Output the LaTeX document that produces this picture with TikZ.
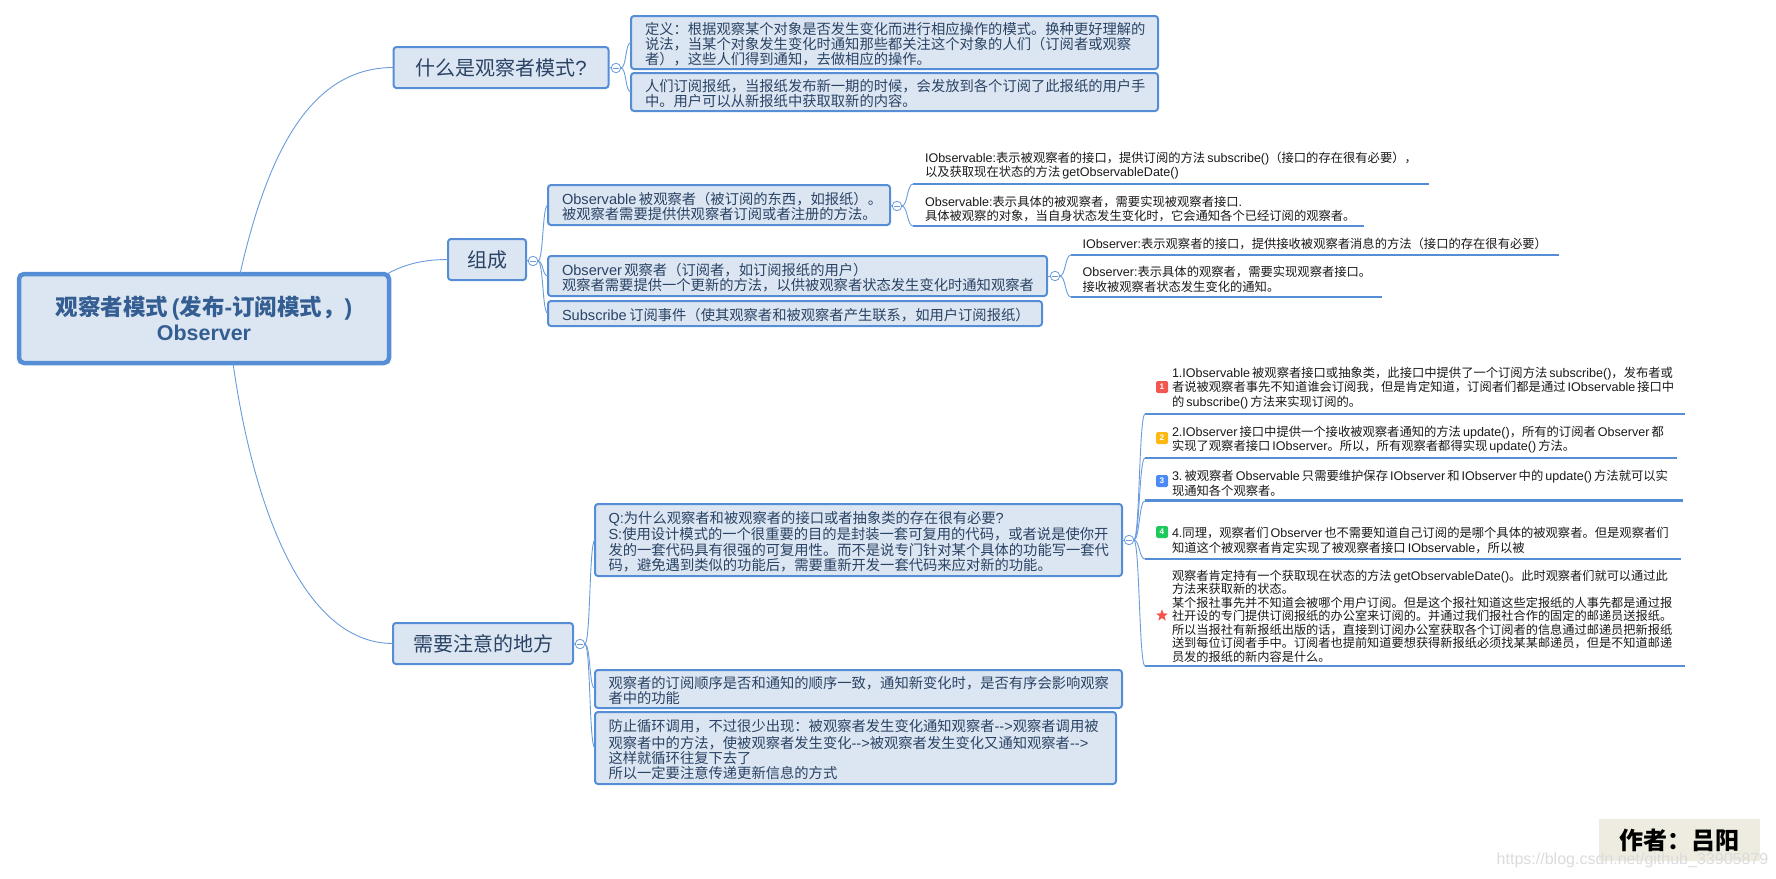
\documentclass[tikz,border=0pt]{standalone}
\usepackage{fontspec}
\usetikzlibrary{shapes.geometric}
\setmainfont{Noto Sans CJK SC}
\newfontfamily\enfont[Scale=1.02]{Liberation Sans}
\newcommand\en[1]{{\enfont #1}}
\definecolor{bstroke}{HTML}{558ED5}
\definecolor{bfill}{HTML}{DCE6F2}
\definecolor{ctext}{HTML}{2A4365}
\definecolor{rtext}{HTML}{345E92}
\definecolor{connc}{HTML}{6A9BDC}
\definecolor{authorbg}{HTML}{EEECE1}
\def\tspace{0pt}
\tikzset{
  allbox/.style={rectangle,inner xsep=0pt,inner ysep=0pt,outer sep=0pt,align=left},
  topbox/.style={allbox,draw=bstroke,fill=bfill,line width=2pt,rounded corners=3pt,text=ctext},
  sm/.style={font=\fontsize{14.3}{15.3}\selectfont\def\tspace{3.2pt}},
  lvl/.style={rectangle,draw=bstroke,fill=bfill,line width=2pt,rounded corners=3pt,minimum height=41pt,inner sep=0pt,outer sep=0pt,text=ctext,font=\fontsize{20}{24}\selectfont},
  ultext/.style={allbox,text=black!90,font=\fontsize{12.3}{14.6}\selectfont},
  ultight/.style={allbox,text=black!90,font=\fontsize{12.2}{13.45}\selectfont},
  uline/.style={draw=bstroke,line width=2.6pt},
  conn/.style={draw=connc,line width=0.9pt},
  brace/.style={conn,out=0,in=180,max distance=6pt},
  collapse/.style={circle,draw=connc,fill=white,line width=0.8pt,minimum size=9.5pt,inner sep=0pt,outer sep=0pt,
    path picture={\draw[connc,line width=0.7pt] ([xshift=-2.6pt]path picture bounding box.center) -- ([xshift=2.6pt]path picture bounding box.center);}},
  badge/.style={rectangle,rounded corners=1.5pt,minimum size=12pt,inner sep=0pt,text=white,font=\enfont\bfseries\fontsize{8}{8}\selectfont},
}
% style, name, x0, y0, x1, y1, left pad, text
\newcommand\tb[8]{%
  \pgfmathsetmacro\bw{#5-#3}\pgfmathsetmacro\bh{#6-#4}%
  \pgfmathsetmacro\bx{(#3+#5)/2}\pgfmathsetmacro\by{(#4+#6)/2}%
  \node[#1,minimum width=\bw pt,minimum height=\bh pt,text width=\bw pt] (#2) at (\bx,\by) {\hspace*{#7pt}\parbox[c]{\dimexpr\bw pt-#7pt\relax}{\raggedright\vspace*{\tspace}#8}};}
\begin{document}
\begin{tikzpicture}[x=1pt,y=-1pt]
\useasboundingbox (0,0) rectangle (1776,878);
% root
\node[rectangle,draw=bstroke,fill=bfill,line width=4.5pt,rounded corners=5pt,minimum width=370pt,minimum height=89pt,
  inner sep=0pt,outer sep=0pt,align=center,text=rtext,font=\bfseries\fontsize{22.5}{25}\selectfont] (root) at (204,318.5)
  {观察者模式\,\en{(}发布\en{-}订阅模式，\en{)}\\{\enfont\bfseries\fontsize{21}{25}\selectfont Observer}};
% level 1
\node[lvl,minimum width=215pt] (l1) at (501,67.5) {什么是观察者模式\en{?}};
\node[lvl,minimum width=78pt] (l2) at (487,259.5) {组成};
\node[lvl,minimum width=180pt] (l3) at (483,643.5) {需要注意的地方};
\draw[conn] ([xshift=221pt]root.north west) .. controls +(32,-142) and +(-73,0) .. (l1.west);
\draw[conn] ([xshift=-2pt]root.north east) .. controls +(21,-12) and +(-18,0) .. (l2.west);
\draw[conn] ([xshift=214pt]root.south west) .. controls +(19,135) and +(-93,0) .. (l3.west);
% collapse buttons
\node[collapse] (c1) at (616,68) {};
\node[collapse] (c2) at (533,261) {};
\node[collapse] (c3) at (580,644) {};
\node[collapse] (c4) at (897,206) {};
\node[collapse] (c5) at (1055,276) {};
\node[collapse] (c6) at (1129,540) {};
% group 1
\tb{topbox,sm}{a1}{631}{16}{1158}{69}{14}{定义：根据观察某个对象是否发生变化而进行相应操作的模式。换种更好理解的\\说法，当某个对象发生变化时通知那些都关注这个对象的人们（订阅者或观察\\者），这些人们得到通知，去做相应的操作。}
\tb{topbox,sm}{a2}{631}{73}{1158}{111}{14}{人们订阅报纸，当报纸发布新一期的时候，会发放到各个订阅了此报纸的用户手\\中。用户可以从新报纸中获取取新的内容。}
% group 2
\tb{topbox,sm}{b1}{548}{185}{890}{225}{14}{\en{Observable}\,被观察者（被订阅的东西，如报纸）。\\被观察者需要提供供观察者订阅或者注册的方法。}
\tb{topbox,sm}{b2}{548}{256}{1047}{296}{14}{\en{Observer}\,观察者（订阅者，如订阅报纸的用户）\\观察者需要提供一个更新的方法，以供被观察者状态发生变化时通知观察者}
\tb{topbox,sm}{b3}{548}{301}{1042}{326}{14}{\en{Subscribe}\,订阅事件（使其观察者和被观察者产生联系，如用户订阅报纸）}
\tb{ultext}{oa}{913}{147}{1429}{184}{12}{\en{IObservable:}表示被观察者的接口，提供订阅的方法\,\en{subscribe()}（接口的存在很有必要），\\以及获取现在状态的方法\,\en{getObservableDate()}}
\tb{ultext}{ob}{913}{192}{1364}{226}{12}{\en{Observable:}表示具体的被观察者，需要实现被观察者接口\en{.}\\具体被观察的对象，当自身状态发生变化时，它会通知各个已经订阅的观察者。}
\tb{ultext}{oc}{1071}{233}{1559}{255}{11.5}{\en{IObserver:}表示观察者的接口，提供接收被观察者消息的方法（接口的存在很有必要）}
\tb{ultext}{od}{1071}{262}{1382}{297}{11.5}{\en{Observer:}表示具体的观察者，需要实现观察者接口。\\接收被观察者状态发生变化的通知。}
% group 3
\tb{topbox,sm}{d1}{595}{504}{1122}{576}{13.5}{\en{Q:}为什么观察者和被观察者的接口或者抽象类的存在很有必要\en{?}\\[1.5pt]\en{S:}使用设计模式的一个很重要的目的是封装一套可复用的代码，或者说是使你开\\发的一套代码具有很强的可复用性。而不是说专门针对某个具体的功能写一套代\\码，避免遇到类似的功能后，需要重新开发一套代码来应对新的功能。}
\tb{topbox,sm}{d2}{595}{670}{1122}{708}{13.5}{观察者的订阅顺序是否和通知的顺序一致，通知新变化时，是否有序会影响观察\\者中的功能}
\tb{topbox,sm}{d3}{595}{712}{1116}{784}{13.5}{防止循环调用，不过很少出现：被观察者发生变化通知观察者\en{-{}->}观察者调用被\\[1.5pt]观察者中的方法，使被观察者发生变化\en{-{}->}被观察者发生变化又通知观察者\en{-{}->}\\这样就循环往复下去了\\所以一定要注意传递更新信息的方式}
\tb{ultext}{q1}{1145}{362}{1685}{414}{27}{\en{1.IObservable}\,被观察者接口或抽象类，此接口中提供了一个订阅方法\,\en{subscribe()}，发布者或\\者说被观察者事先不知道谁会订阅我，但是肯定知道，订阅者们都是通过\,\en{IObservable}\,接口中\\的\,\en{subscribe()}\,方法来实现订阅的。}
\tb{ultext}{q2}{1145}{421}{1677}{458}{27}{\en{2.IObserver}\,接口中提供一个接收被观察者通知的方法\,\en{update()}，所有的订阅者\,\en{Observer}\,都\\实现了观察者接口\,\en{IObserver}。所以，所有观察者都得实现\,\en{update()}\,方法。}
\tb{ultext}{q3}{1145}{465.3}{1683}{500.7}{27}{\en{3.}\,被观察者\,\en{Observable}\,只需要维护保存\,\en{IObserver}\,和\,\en{IObserver}\,中的\,\en{update()}\,方法就可以实\\现通知各个观察者。}
\tb{ultext}{q4}{1145}{522}{1681}{559}{27}{\en{4.}同理，观察者们\,\en{Observer}\,也不需要知道自己订阅的是哪个具体的被观察者。但是观察者们\\知道这个被观察者肯定实现了被观察者接口\,\en{IObservable}，所以被}
\tb{ultight}{q5}{1145}{566}{1685}{666}{27}{观察者肯定持有一个获取现在状态的方法\,\en{getObservableDate()}。此时观察者们就可以通过此\\方法来获取新的状态。\\某个报社事先并不知道会被哪个用户订阅。但是这个报社知道这些定报纸的人事先都是通过报\\社开设的专门提供订阅报纸的办公室来订阅的。并通过我们报社合作的固定的邮递员送报纸。\\所以当报社有新报纸出版的话，直接到订阅办公室获取各个订阅者的信息通过邮递员把新报纸\\送到每位订阅者手中。订阅者也提前知道要想获得新报纸必须找某某邮递员，但是不知道邮递\\员发的报纸的新内容是什么。}
\foreach \n in {oa,ob,oc,od,q1,q2,q3,q4,q5} {\draw[uline] (\n.south west) -- (\n.south east);}
% short stubs
\draw[conn] (l1.east) -- (c1.west);
\draw[conn] (l2.east) -- (c2.west);
\draw[conn] (l3.east) -- (c3.west);
\draw[conn] (b1.east) -- (c4.west);
\draw[conn] (b2.east) -- (c5.west);
\draw[conn] (d1.east) -- (c6.west);
% braces
\draw[conn] (c1.east) to[brace] (a1.west);
\draw[conn] (c1.east) to[brace] (a2.west);
\draw[conn] (c2.east) to[brace] (b1.west);
\draw[conn] (c2.east) to[brace] (b2.west);
\draw[conn] (c2.east) to[brace] (b3.west);
\draw[conn] (c3.east) to[brace] (d1.west);
\draw[conn] (c3.east) to[brace] (d2.west);
\draw[conn] (c3.east) to[brace] (d3.west);
\draw[conn] (c4.east) to[brace] (oa.south west);
\draw[conn] (c4.east) to[brace] (ob.south west);
\draw[conn] (c5.east) to[brace] (oc.south west);
\draw[conn] (c5.east) to[brace] (od.south west);
\draw[conn] (c6.east) to[brace] (q1.south west);
\draw[conn] (c6.east) to[brace] (q2.south west);
\draw[conn] (c6.east) to[brace] (q3.south west);
\draw[conn] (c6.east) to[brace] (q4.south west);
\draw[conn] (c6.east) to[brace] (q5.south west);
% badges
\node[badge,fill={rgb,255:red,242;green,86;blue,79}] (i1) at (1162,387) {1};
\node[badge,fill={rgb,255:red,253;green,184;blue,19}] (i2) at (1162,438) {2};
\node[badge,fill={rgb,255:red,76;green,139;blue,245}] (i3) at (1162,481) {3};
\node[badge,fill={rgb,255:red,31;green,201;blue,94}] (i4) at (1162,532) {4};
\node[star,star points=5,star point ratio=2.4,fill={rgb,255:red,242;green,86;blue,79},minimum size=12.5pt,inner sep=0pt] (i5) at (1162,615.5) {};
% author label
\node[rectangle,fill=authorbg,minimum width=161pt,minimum height=42pt,inner sep=0pt,text=black,font=\bfseries\fontsize{24}{28}\selectfont] (author) at (1679.5,840) {作者：吕阳};
\node[inner sep=0pt,text=black!14,font=\enfont\fontsize{15.7}{18}\selectfont,anchor=center] (wm) at (1632.5,860) {https://blog.csdn.net/github\_33905879};
\end{tikzpicture}
\end{document}
